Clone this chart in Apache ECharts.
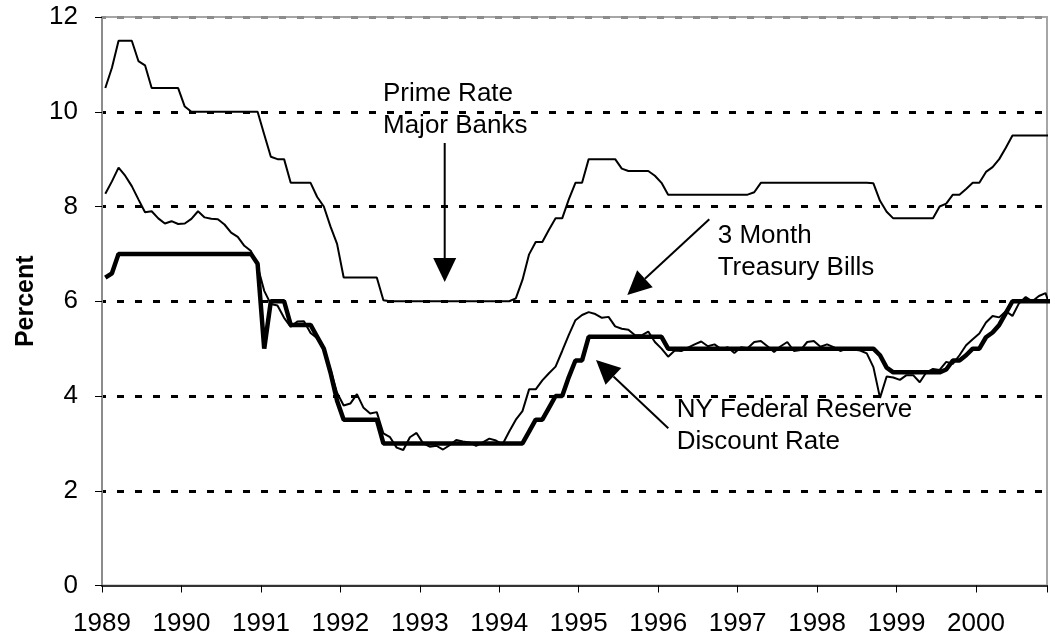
<!DOCTYPE html>
<html>
<head>
<meta charset="utf-8">
<script src="https://cdn.jsdelivr.net/npm/echarts@6/dist/echarts.min.js"></script>
<style>
  html, body { margin: 0; padding: 0; background: #fff; }
  #chart { width: 1050px; height: 641px; }
</style>
</head>
<body>
<div id="chart"></div>
<script>
// monthly values, Jan 1989 .. Dec 2000
const startYear = 1989;
const yearLabels = ["1989", "1990", "1991", "1992", "1993", "1994", "1995", "1996", "1997", "1998", "1999", "2000"];
const yTicks = [0, 2, 4, 6, 8, 10, 12];

const primeRate = [
  10.5, 10.93, 11.5, 11.5, 11.5, 11.07, 10.98, 10.5, 10.5, 10.5, 10.5, 10.5,
  10.11, 10, 10, 10, 10, 10, 10, 10, 10, 10, 10, 10,
  9.52, 9.05, 9, 9, 8.5, 8.5, 8.5, 8.5, 8.2, 8, 7.58, 7.21,
  6.5, 6.5, 6.5, 6.5, 6.5, 6.5, 6.02, 6, 6, 6, 6, 6,
  6, 6, 6, 6, 6, 6, 6, 6, 6, 6, 6, 6,
  6, 6, 6.06, 6.45, 6.99, 7.25, 7.25, 7.51, 7.75, 7.75, 8.15, 8.5,
  8.5, 9, 9, 9, 9, 9, 8.8, 8.75, 8.75, 8.75, 8.75, 8.65,
  8.5, 8.25, 8.25, 8.25, 8.25, 8.25, 8.25, 8.25, 8.25, 8.25, 8.25, 8.25,
  8.25, 8.25, 8.3, 8.5, 8.5, 8.5, 8.5, 8.5, 8.5, 8.5, 8.5, 8.5,
  8.5, 8.5, 8.5, 8.5, 8.5, 8.5, 8.5, 8.5, 8.49, 8.12, 7.89, 7.75,
  7.75, 7.75, 7.75, 7.75, 7.75, 7.75, 8, 8.06, 8.25, 8.25, 8.37, 8.5,
  8.5, 8.73, 8.83, 9, 9.24, 9.5, 9.5, 9.5, 9.5, 9.5, 9.5, 9.5
];

const treasuryBills = [
  8.27, 8.53, 8.82, 8.65, 8.43, 8.15, 7.88, 7.9, 7.75, 7.64, 7.69, 7.63,
  7.64, 7.74, 7.9, 7.77, 7.74, 7.73, 7.62, 7.45, 7.36, 7.17, 7.06, 6.74,
  6.22, 5.94, 5.91, 5.65, 5.46, 5.57, 5.58, 5.33, 5.22, 4.99, 4.56, 4.07,
  3.8, 3.84, 4.04, 3.75, 3.63, 3.66, 3.21, 3.13, 2.91, 2.86, 3.13, 3.22,
  3, 2.93, 2.95, 2.87, 2.96, 3.07, 3.04, 3.02, 2.95, 3.02, 3.1, 3.06,
  2.98, 3.25, 3.5, 3.68, 4.14, 4.14, 4.33, 4.48, 4.62, 4.95, 5.29, 5.6,
  5.71, 5.77, 5.73, 5.65, 5.67, 5.47, 5.42, 5.4, 5.28, 5.28, 5.36, 5.14,
  5, 4.83, 4.96, 4.95, 5.02, 5.09, 5.15, 5.05, 5.09, 4.99, 5.03, 4.91,
  5.03, 5.01, 5.14, 5.16, 5.05, 4.93, 5.05, 5.14, 4.95, 4.97, 5.14, 5.16,
  5.04, 5.09, 5.03, 4.95, 5, 4.98, 4.96, 4.9, 4.61, 3.96, 4.41, 4.39,
  4.34, 4.44, 4.44, 4.29, 4.5, 4.57, 4.55, 4.72, 4.68, 4.86, 5.07, 5.2,
  5.32, 5.55, 5.69, 5.66, 5.79, 5.69, 5.96, 6.09, 6, 6.11, 6.17, 5.77
];

const discountRate = [
  6.5, 6.59, 7, 7, 7, 7, 7, 7, 7, 7, 7, 7,
  7, 7, 7, 7, 7, 7, 7, 7, 7, 7, 7, 6.79,
  5, 6, 6, 6, 5.5, 5.5, 5.5, 5.5, 5.25, 5, 4.5, 3.9,
  3.5, 3.5, 3.5, 3.5, 3.5, 3.5, 3, 3, 3, 3, 3, 3,
  3, 3, 3, 3, 3, 3, 3, 3, 3, 3, 3, 3,
  3, 3, 3, 3, 3.25, 3.5, 3.5, 3.75, 4, 4, 4.4, 4.75,
  4.75, 5.25, 5.25, 5.25, 5.25, 5.25, 5.25, 5.25, 5.25, 5.25, 5.25, 5.25,
  5.25, 5, 5, 5, 5, 5, 5, 5, 5, 5, 5, 5,
  5, 5, 5, 5, 5, 5, 5, 5, 5, 5, 5, 5,
  5, 5, 5, 5, 5, 5, 5, 5, 5, 4.86, 4.6, 4.5,
  4.5, 4.5, 4.5, 4.5, 4.5, 4.5, 4.5, 4.56, 4.75, 4.75, 4.86, 5,
  5, 5.24, 5.34, 5.5, 5.75, 6, 6, 6, 6, 6, 6, 6
];

const FONT = '"Liberation Sans", Arial, sans-serif';

// each month sits in the middle of its slot on the year scale
const toPoints = (values) => values.map((v, i) => [startYear + (i + 0.5) / 12, v]);

const chart = echarts.init(document.getElementById("chart"), null, { renderer: "canvas" });

function arrow(x1, y1, x2, y2) {
  const len = 24, half = 11.5;
  const dx = x2 - x1, dy = y2 - y1;
  const d = Math.sqrt(dx * dx + dy * dy);
  const ux = dx / d, uy = dy / d;
  const bx = x2 - ux * len, by = y2 - uy * len;
  return [
    {
      type: "line",
      shape: { x1: x1, y1: y1, x2: bx, y2: by },
      style: { stroke: "#000", lineWidth: 2 },
      silent: true,
    },
    {
      type: "polygon",
      shape: {
        points: [
          [x2, y2],
          [bx - uy * half, by + ux * half],
          [bx + uy * half, by - ux * half],
        ],
      },
      style: { fill: "#000" },
      silent: true,
    },
  ];
}

function note(text, x, y) {
  return {
    type: "text",
    silent: true,
    style: {
      text: text,
      x: x,
      y: y,
      font: "26px " + FONT,
      lineHeight: 32,
      fill: "#000",
      verticalAlign: "top",
    },
  };
}

const option = {
  animation: false,
  backgroundColor: "#fff",
  grid: {
    left: 102,
    right: 0,
    top: 17,
    bottom: 55.5,
    show: true,
    borderColor: "#a6a6a6",
    borderWidth: 2,
  },
  xAxis: {
    type: "value",
    min: startYear,
    max: startYear + 948 / 79.71,
    interval: 1,
    axisLine: { lineStyle: { color: "#333", width: 2 } },
    axisTick: { show: true, length: 7, lineStyle: { color: "#000", width: 1 } },
    splitLine: { show: false },
    axisLabel: {
      margin: 25,
      fontSize: 26,
      fontFamily: FONT,
      color: "#000",
      formatter: (v) => {
        const k = Math.round(v - startYear);
        return Math.abs(v - startYear - k) < 1e-6 && yearLabels[k] ? yearLabels[k] : "";
      },
    },
  },
  yAxis: {
    type: "value",
    min: yTicks[0],
    max: yTicks[yTicks.length - 1],
    interval: 2,
    name: "Percent",
    nameLocation: "middle",
    nameRotate: 90,
    nameGap: 60,
    nameTextStyle: { fontSize: 25, fontWeight: "bold", fontFamily: FONT, color: "#000" },
    axisLine: { show: true, lineStyle: { color: "#8c8c8c", width: 2 } },
    axisTick: { show: true, length: 7, lineStyle: { color: "#000", width: 1 } },
    axisLabel: { margin: 24, fontSize: 26, fontFamily: FONT, color: "#000" },
    splitLine: {
      show: true,
      lineStyle: {
        color: ["transparent", "#000", "#000", "#000", "#000", "#000", "#8c8c8c"],
        width: 3,
        type: [7, 11],
        dashOffset: 3,
      },
    },
  },
  series: [
    {
      name: "Prime Rate Major Banks",
      type: "line",
      data: toPoints(primeRate),
      showSymbol: false,
      lineStyle: { color: "#000", width: 2 },
    },
    {
      name: "3 Month Treasury Bills",
      type: "line",
      data: toPoints(treasuryBills),
      showSymbol: false,
      lineStyle: { color: "#000", width: 2 },
    },
    {
      name: "NY Federal Reserve Discount Rate",
      type: "line",
      data: toPoints(discountRate),
      showSymbol: false,
      lineStyle: { color: "#000", width: 4.5 },
    },
  ],
  graphic: [
    note("Prime Rate\nMajor Banks", 383, 78),
    ...arrow(444.7, 143, 444.7, 282),
    note("3 Month\nTreasury Bills", 717.7, 220),
    ...arrow(709.3, 219.3, 627.3, 295),
    note("NY Federal Reserve\nDiscount Rate", 676.7, 394),
    ...arrow(668.3, 428.3, 596, 360),
  ],
};

chart.setOption(option);
</script>
</body>
</html>
